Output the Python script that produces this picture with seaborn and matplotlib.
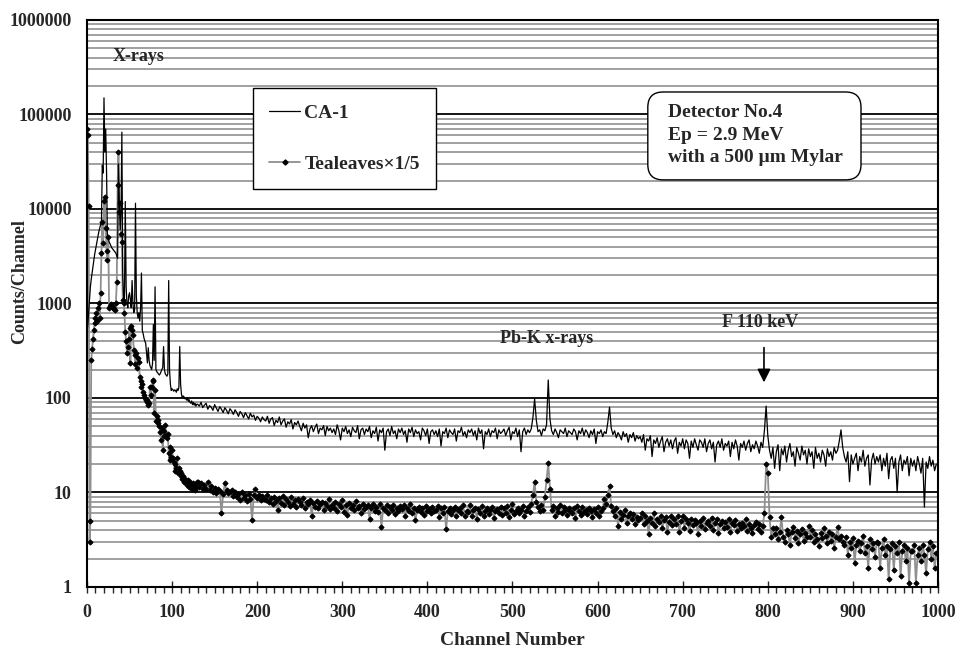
import numpy as np
import matplotlib
matplotlib.use("Agg")
import matplotlib.pyplot as plt
from matplotlib.ticker import LogLocator, MultipleLocator, NullFormatter, FuncFormatter
from matplotlib.lines import Line2D
from matplotlib.patches import FancyBboxPatch
import seaborn as sns

# channels 0-129 read one by one, then every 2nd channel up to 998
ch_head = list(range(0, 130))
ch_tail = list(range(130, 1000, 2))
channels = ch_head + ch_tail

ca1_head = [
    500, 600, 800, 1100, 1500, 1800, 2100, 2500, 2900, 3300,
    3700, 4200, 4700, 5200, 5800, 6300, 6800, 7200, 29000, 24000,
    150000, 40000, 70000, 25000, 5000, 4800, 4500, 4300, 4100, 3900,
    3800, 3700, 3600, 3500, 3400, 3200, 3000, 30000, 12000, 6000,
    9000, 65000, 2000, 1200, 1000, 12000, 1500, 1000, 900, 1200,
    1300, 1100, 900, 1750, 1000, 800, 850, 11500, 1200, 800,
    700, 800, 650, 900, 2100, 520, 480, 430, 400, 380,
    300, 235, 340, 250, 220, 210, 200, 230, 600, 250,
    1500, 200, 190, 185, 180, 175, 180, 190, 200, 210,
    350, 200, 180, 175, 170, 180, 1750, 200, 140, 120,
    125, 122, 118, 122, 120, 115, 125, 120, 130, 350,
    140, 110, 100, 105, 103, 98, 100, 95, 100, 92,
    96, 90, 88, 93, 85, 90, 84, 88, 82, 86,
]
ca1_tail = [
    86, 82, 90, 79, 84, 88, 76, 83, 80, 74, 85, 78, 72, 81, 76, 70, 79, 74, 68, 77,
    73, 67, 75, 70, 64, 72, 68, 62, 70, 65, 60, 69, 63, 66, 58, 64, 61, 56, 63, 59,
    57, 64, 54, 60, 62, 51, 58, 55, 63, 52, 57, 60, 49, 56, 53, 59, 47, 55, 52, 57,
    50, 45, 54, 48, 52, 38, 47, 51, 44, 49, 53, 42, 48, 46, 51, 40, 50, 45, 48, 43,
    47, 41, 52, 45, 36, 48, 44, 50, 42, 46, 39, 49, 45, 43, 51, 37, 46, 48, 41, 47,
    44, 50, 38, 45, 42, 49, 35, 46, 43, 48, 28, 44, 47, 40, 50, 42, 45, 37, 47, 43,
    48, 41, 45, 34, 47, 43, 49, 39, 46, 42, 44, 36, 48, 45, 40, 47, 33, 44, 46, 41,
    45, 39, 47, 31, 44, 42, 48, 38, 46, 43, 41, 47, 35, 45, 43, 49, 40, 44, 38, 46,
    43, 47, 40, 45, 36, 48, 42, 46, 29, 44, 41, 47, 39, 45, 43, 48, 37, 46, 42, 44,
    47, 40, 45, 49, 36, 44, 42, 48, 39, 46, 27, 44, 48, 41, 46, 43, 47, 62, 98, 58,
    44, 46, 40, 47, 45, 52, 155, 60, 45, 41, 47, 43, 38, 46, 44, 42, 48, 39, 45, 43,
    41, 47, 44, 36, 45, 42, 48, 40, 46, 43, 38, 45, 41, 47, 33, 44, 42, 46, 39, 44,
    42, 55, 80, 48, 41, 45, 38, 43, 40, 36, 44, 39, 42, 34, 41, 38, 43, 35, 40, 37,
    39, 34, 41, 28, 37, 35, 40, 24, 36, 33, 38, 30, 35, 39, 27, 34, 37, 31, 36, 29,
    35, 38, 26, 34, 31, 37, 29, 36, 33, 23, 35, 30, 37, 32, 28, 36, 34, 30, 37, 27,
    33, 36, 29, 34, 21, 32, 35, 30, 37, 28, 33, 31, 35, 24, 34, 29, 36, 31, 22, 33,
    30, 35, 28, 33, 36, 27, 32, 29, 35, 31, 26, 34, 30, 45, 82, 40, 28, 23, 30, 18,
    27, 32, 17, 29, 25, 31, 21, 28, 33, 24, 27, 19, 30, 26, 22, 31, 25, 28, 20, 29,
    24, 27, 18, 30, 23, 26, 21, 28, 25, 19, 29, 24, 27, 22, 30, 26, 28, 35, 46, 30,
    24, 21, 27, 13, 25, 20, 23, 26, 17, 24, 21, 28, 19, 23, 25, 12, 22, 26, 20, 24,
    21, 25, 17, 23, 19, 26, 14, 22, 24, 18, 23, 10, 21, 25, 17, 22, 20, 24, 15, 23,
    19, 22, 17, 24, 20, 16, 23, 7, 21, 18, 24, 19, 22, 17, 20,
]

tea_head = [
    70000, 60000, 10800, 3, 5, 250, 330, 420, 520, 620,
    700, 800, 660, 900, 1000, 700, 1300, 3400, 7300, 4400,
    12000, 13500, 6300, 3600, 2900, 5000, 900, 950, 980, 940,
    920, 900, 870, 850, 1000, 1700, 18000, 40000, 9300, 11500,
    5400, 4500, 1100, 1000, 800, 500, 400, 300, 350, 420,
    550, 235, 580, 520, 460, 320, 285, 230, 300, 210,
    265, 240, 165, 150, 130, 140, 115, 108, 100, 96,
    90, 95, 85, 88, 130, 107, 130, 150, 155, 70,
    120, 57, 64, 58, 54, 50, 44, 36, 48, 28,
    40, 45, 52, 40, 38, 42, 26, 22, 30, 24,
    28, 23, 21, 17, 20, 18, 23, 16, 18, 17,
    15, 16, 14, 15, 13, 14, 12.5, 13, 12, 13.5,
    11.5, 13, 12, 11, 12.5, 11, 12, 10.5, 11.5, 13,
]
tea_tail = [
    13, 11.5, 12.5, 10.8, 12, 11, 12.8, 10.5, 11.6, 10.2, 11.2, 9.8, 10.9, 10.4, 6.1, 9.6, 12.5, 10.6, 9.8, 10.1,
    10.5, 9.2, 10, 8.9, 9.6, 8.4, 10.2, 8.8, 9.4, 8.1, 9.7, 8.6, 5.1, 9.3, 10.8, 8.7, 9.5, 8.3, 9.1, 8.5,
    8.4, 9.3, 7.9, 8.8, 7.5, 9, 8.2, 6.6, 8.7, 7.8, 9.1, 7.4, 8.5, 8, 7.2, 8.9, 7.6, 8.3, 7.1, 8.6,
    8, 7.3, 8.7, 6.8, 7.9, 7.5, 8.4, 5.6, 7.7, 7.1, 8.2, 6.9, 7.6, 8, 6.5, 7.8, 7.2, 8.5, 6.7, 7.4,
    6.9, 7.9, 6.4, 7.5, 7, 8.3, 6.2, 7.3, 5.8, 7.7, 6.8, 7.4, 6.5, 8.1, 6.9, 7.2, 6.1, 7.6, 6.7, 7.1,
    7.3, 5.3, 6.9, 7.6, 6.4, 7, 6.2, 7.5, 4.3, 6.8, 6.5, 7.3, 6.1, 7.1, 6.6, 7.4, 5.9, 6.9, 6.3, 7.2,
    6.7, 7.3, 5.7, 6.9, 6.3, 7.6, 6, 6.8, 5.1, 6.6, 7.1, 6.2, 6.9, 5.8, 7.2, 6.4, 6.7, 6, 7, 6.3,
    6.5, 7.2, 5.5, 6.8, 6.1, 7, 4.1, 6.3, 6.9, 5.9, 6.6, 7.1, 5.6, 6.5, 6.8, 6, 7.3, 5.7, 6.4, 6.2,
    7.4, 5.7, 6.5, 6.9, 5.3, 6.7, 6.1, 7.2, 5.6, 6.4, 6.8, 5.9, 6.6, 7, 5.4, 6.3, 6.7, 6.1, 7.1, 5.8,
    6.8, 6.1, 7.2, 5.5, 6.5, 7.5, 5.9, 6.4, 6.9, 6, 6.6, 7.2, 5.7, 6.3, 7, 6.2, 7.6, 9.5, 13, 8,
    7, 6.3, 7.4, 6.5, 9, 13.5, 20.5, 11, 6.6, 7.2, 5.6, 6.8, 6.2, 7.4, 6, 7.1, 6.5, 5.8, 6.9, 6.3,
    6.1, 6.8, 5.4, 7.2, 6.4, 5.8, 7, 6.2, 6.6, 5.9, 6.9, 6.3, 5.5, 6.7, 6.1, 7.1, 5.7, 6.4, 6.8, 8.5,
    7.5, 9.5, 11.7, 7.2, 6.4, 5.6, 6.8, 4.4, 6.2, 5.2, 5.8, 6.5, 4.8, 5.6, 6.1, 5.3, 5.9, 4.6, 5.5, 5.1,
    5.4, 6, 4.6, 5.6, 5, 3.6, 5.4, 4.8, 6, 4.4, 5.3, 4.9, 5.7, 4.2, 5.1, 5.5, 3.8, 4.9, 5.6, 4.5,
    5.2, 4.6, 5.6, 3.8, 5, 5.6, 4.2, 5.2, 4.8, 3.9, 5.3, 4.5, 5.1, 4.7, 3.6, 5, 4.4, 5.4, 4.1, 4.8,
    5, 4.4, 5.4, 4, 4.8, 5.2, 3.7, 4.6, 5, 4.2, 4.9, 4.3, 5.3, 3.8, 4.7, 4.5, 5.1, 3.9, 4.6, 4.2,
    4.8, 4.4, 5.2, 3.9, 4.6, 4.2, 3.7, 4.5, 4.9, 4.1, 4.6, 3.8, 4.4, 6, 20, 16, 5.5, 3.4, 4.2, 3.6,
    4.2, 3.2, 3.8, 5.5, 3.4, 3, 4, 3.6, 2.8, 3.8, 4.3, 3.3, 3.9, 2.9, 3.6, 4.1, 3.1, 3.7, 3.4, 4.4,
    3.4, 4, 3, 3.6, 3.2, 2.7, 3.7, 3.3, 4.2, 3.5, 2.9, 3.8, 3.1, 3.6, 2.6, 3.4, 4.3, 3.2, 3.5, 3,
    2.8, 3.4, 2.2, 3, 2.6, 3.3, 1.8, 2.8, 3.1, 2.4, 2.9, 3.5, 2.3, 2.7, 1.6, 3.2, 2.5, 2.9, 2.1, 3,
    2.9, 1.6, 2.6, 3.2, 2.2, 2.7, 1.2, 2.5, 2.9, 1.5, 2.7, 2.3, 3, 1.3, 2.4, 2.8, 1.9, 2.6, 1.1, 2.4,
    2.4, 2.8, 1.1, 2.2, 2.6, 1.9, 2.8, 2.2, 1.4, 2.5, 3, 2, 2.7, 1.6, 2.3,
]

ca1 = ca1_head + ca1_tail
tea = tea_head + tea_tail
assert len(ca1) == len(channels), (len(ca1), len(channels))
assert len(tea) == len(channels), (len(tea), len(channels))

x_ticks = list(range(0, 1001, 100))
y_ticks = [1, 10, 100, 1000, 10000, 100000, 1000000]
info_lines = ["Detector No.4", "Ep = 2.9 MeV", "with a 500 µm Mylar"]

sns.set_style("white")
plt.rcParams["font.family"] = ["Liberation Serif", "DejaVu Serif"]
plt.rcParams["font.weight"] = "bold"
plt.rcParams["font.size"] = 13

fig = plt.figure(figsize=(9.6, 6.53), dpi=100)
ax = fig.add_axes([0.0906, 0.1011, 0.8865, 0.8683])

tea_color = "#8f8f8f"
sns.lineplot(x=channels, y=tea, ax=ax, color=tea_color, lw=1.3,
             marker="D", markersize=2.6, markerfacecolor="black",
             markeredgecolor="black", estimator=None, sort=False)
sns.lineplot(x=channels, y=ca1, ax=ax, color="black", lw=0.9,
             estimator=None, sort=False)

ax.set_yscale("log")
ax.set_ylim(1, 1000000)
ax.set_xlim(0, 1000)
ax.set_yticks(y_ticks)
ax.yaxis.set_major_formatter(FuncFormatter(lambda v, p: f"{int(round(v))}"))
ax.yaxis.set_minor_locator(LogLocator(base=10, subs=np.arange(2, 10)))
ax.yaxis.set_minor_formatter(NullFormatter())
ax.set_xticks(x_ticks)
ax.xaxis.set_minor_locator(MultipleLocator(10))

ax.set_axisbelow(True)
ax.yaxis.grid(True, which="minor", color="#a0a0a0", lw=1.4)
ax.yaxis.grid(True, which="major", color="black", lw=1.3)
ax.xaxis.grid(False)

ax.tick_params(axis="y", which="both", length=0, pad=11, labelsize=13)
ax.tick_params(axis="x", which="major", direction="inout", length=9, width=1,
               pad=8, labelsize=13, bottom=True)
ax.tick_params(axis="x", which="minor", direction="out", length=4, width=1,
               bottom=True)
for s in ax.spines.values():
    s.set_color("black")
    s.set_linewidth(1.5)

ax.set_xlabel("Channel Number", fontsize=14, fontweight="bold")
ax.set_ylabel("Counts/Channel", fontsize=13, fontweight="bold")
ax.xaxis.set_label_coords(0.5, -0.080)
ax.yaxis.set_label_coords(-0.069, 0.538)

handles = [
    Line2D([], [], color="black", lw=0.9),
    Line2D([], [], color=tea_color, lw=1.3, marker="D", markersize=2.6,
           markerfacecolor="black", markeredgecolor="black"),
]
leg = ax.legend(handles, ["CA-1", "Tealeaves×1/5"], loc="upper left",
                bbox_to_anchor=(0.195, 0.88), borderaxespad=0,
                labelspacing=1.7, handlelength=1.55, handletextpad=0.25,
                borderpad=0.85, fancybox=False, framealpha=1,
                edgecolor="black", prop={"weight": "bold", "size": 14})
leg.get_frame().set_linewidth(1.0)

box = FancyBboxPatch((0.659, 0.718), 0.2505, 0.155,
                     boxstyle="round,pad=0,rounding_size=0.018",
                     mutation_aspect=1.5, transform=ax.transAxes,
                     fc="white", ec="black", lw=1.0, zorder=4)
ax.add_patch(box)
for txt, yy in zip(info_lines, [0.836, 0.797, 0.758]):
    ax.text(0.683, yy, txt, transform=ax.transAxes, ha="left", va="center",
            fontsize=14, fontweight="bold", zorder=5)

ax.text(0.0306, 0.935, "X-rays", transform=ax.transAxes, ha="left",
        va="center", fontsize=13, fontweight="bold")
ax.text(0.5405, 0.439, "Pb-K x-rays", transform=ax.transAxes, ha="center",
        va="center", fontsize=13, fontweight="bold")
ax.text(0.791, 0.4656, "F 110 keV", transform=ax.transAxes, ha="center",
        va="center", fontsize=13, fontweight="bold")
ax.annotate("", xy=(0.7955, 0.356), xytext=(0.7955, 0.427),
            xycoords="axes fraction", textcoords="axes fraction",
            arrowprops=dict(arrowstyle="-|>", color="black", lw=1.2,
                            mutation_scale=20))

fig.savefig("out.png", dpi=100)
